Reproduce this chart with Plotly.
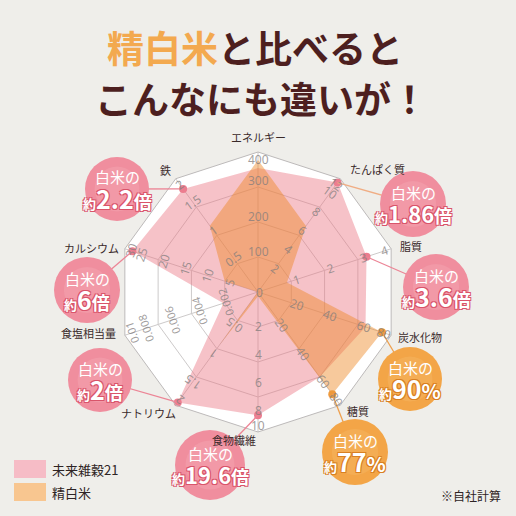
import math
import plotly.graph_objects as go

# ---------------- data ----------------
categories = ['エネルギー', 'たんぱく質', '脂質', '炭水化物', '糖質',
              '食物繊維', 'ナトリウム', '食塩相当量', 'カルシウム', '鉄']
axis_max = [400, 12, 4, 80, 80, 10, 2, 0.01, 30, 2]

mirai21 = [354, 11.6, 3.26, 64.6, 60, 8.8, 1.95, 0.0026, 28.3, 1.82]      # 未来雑穀21
seihakumai = [377, 7.0, 0.87, 74.5, 72.2, 0.3, 0.94, 0.0, 7.5, 1.17]      # 精白米

ticks_energy = ['100', '200', '300', '400']
ticks_protein = ['2', '4', '6', '8', '10', '12']
ticks_fat = ['1', '2', '3', '4']
ticks_carb = ['20', '40', '60', '80']
ticks_sugar = ['20', '40', '60', '80']
ticks_fiber = ['2', '4', '6', '8', '10']
ticks_sodium = ['0.5', '1', '1.5', '2']
ticks_salt = ['0.002', '0.004', '0.006', '0.008', '0.01']
ticks_calcium = ['5', '10', '15', '20', '25', '30']
ticks_iron = ['0.5', '1', '1.5', '2']
axis_ticks = [ticks_energy, ticks_protein, ticks_fat, ticks_carb, ticks_sugar,
              ticks_fiber, ticks_sodium, ticks_salt, ticks_calcium, ticks_iron]

pink_dot_axes = ['たんぱく質', '脂質', '食物繊維', 'ナトリウム', 'カルシウム', '鉄']
orange_dot_axes = ['炭水化物', '糖質']

callout_axes = ['鉄', 'たんぱく質', '脂質', 'カルシウム', 'ナトリウム', '食物繊維', '炭水化物', '糖質']
callout_series = ['pink', 'pink', 'pink', 'pink', 'pink', 'pink', 'orange', 'orange']
callout_num = ['2.2', '1.86', '3.6', '6', '2', '19.6', '90', '77']
callout_unit = ['倍', '倍', '倍', '倍', '倍', '倍', '%', '%']

# ---------------- layout constants ----------------
W = H = 516
CX, CY, R = 258, 292, 140

def px(x, y):
    return x / W, 1 - y / H

norm_pink = [v / m for v, m in zip(mirai21, axis_max)]
norm_orange = [v / m for v, m in zip(seihakumai, axis_max)]

def vertex_px(i, rn):
    a = math.radians(36 * i)
    return CX + R * rn * math.sin(a), CY - R * rn * math.cos(a)

fig = go.Figure()
fig.add_trace(go.Scatterpolar(
    r=norm_pink + [norm_pink[0]], theta=categories + [categories[0]],
    fill='toself', fillcolor='rgba(234,116,130,0.44)', line=dict(width=0),
    mode='lines', hoverinfo='skip'))
fig.add_trace(go.Scatterpolar(
    r=norm_orange + [norm_orange[0]], theta=categories + [categories[0]],
    fill='toself', fillcolor='rgba(237,135,35,0.45)', line=dict(width=0),
    mode='lines', hoverinfo='skip'))

pi = [categories.index(c) for c in pink_dot_axes]
oi = [categories.index(c) for c in orange_dot_axes]
fig.add_trace(go.Scatterpolar(
    r=[norm_pink[i] for i in pi], theta=[categories[i] for i in pi],
    mode='markers', marker=dict(size=8, color='#ec7d8f'), hoverinfo='skip'))
fig.add_trace(go.Scatterpolar(
    r=[norm_orange[i] for i in oi], theta=[categories[i] for i in oi],
    mode='markers', marker=dict(size=8, color='#ee9a3c'), hoverinfo='skip'))

dx0, dy0 = px(CX - R, CY + R)
dx1, dy1 = px(CX + R, CY - R)

annotations = []
shapes = []

def ann(x0, y0, text, font, xanchor='center', textangle=0):
    x, y = px(x0, y0)
    annotations.append(dict(x=x, y=y, xref='paper', yref='paper', text=text,
                            showarrow=False, xanchor=xanchor, yanchor='middle',
                            textangle=textangle, font=font))

# tick labels
tick_font = dict(size=12, color='rgba(130,125,125,0.75)', family='Noto Sans')
small_tick_font = dict(size=11, color='rgba(130,125,125,0.75)', family='Noto Sans')
label_angles = [0, 36, -18, 18, 54, 0, -144, -108, -72, -36]
for i, tl in enumerate(axis_ticks):
    for t in tl:
        v = float(t)
        rp = v / axis_max[i] * R
        rp = R - 7 if abs(v - axis_max[i]) < 1e-12 else rp + 6
        a = math.radians(36 * i)
        ann(CX + rp * math.sin(a), CY - rp * math.cos(a), t,
            small_tick_font if len(t) > 3 else tick_font, textangle=label_angles[i])
ann(CX + 1, CY, '0', tick_font)

# category names
cat_font = dict(size=11, color='#3a2a2a', family='Noto Sans CJK JP')
cat_pos = [(258, 137), (377, 169), (411, 246), (420, 337), (358, 411),
           (234, 440), (148, 413), (88, 333), (91, 248), (165, 170)]

# callout bubbles
bubble_pos = [(117, 189, 32), (413, 204, 33), (436, 287, 33), (87, 290, 33),
              (100, 380, 32), (210, 465, 35), (410, 379, 32), (355, 452, 33)]
for c, s, num, unit, (bx, by, br) in zip(callout_axes, callout_series, callout_num,
                                        callout_unit, bubble_pos):
    i = categories.index(c)
    rn = norm_pink[i] if s == 'pink' else norm_orange[i]
    vx, vy = vertex_px(i, rn)
    lcol = '#ec8596' if s == 'pink' else '#eea04e'
    if c == 'たんぱく質':
        lcol = '#f0ad84'
    a0, b0 = px(vx, vy)
    a1, b1 = px(bx, by)
    shapes.append(dict(type='line', xref='paper', yref='paper', x0=a0, y0=b0, x1=a1, y1=b1,
                       line=dict(color=lcol, width=1.3), layer='above'))
    fill = '#f08e9e' if s == 'pink' else '#f3a547'
    inner = '#f4a3b0' if s == 'pink' else '#f6b662'
    cx0, cy0 = px(bx - br, by + br)
    cx1, cy1 = px(bx + br, by - br)
    shapes.append(dict(type='circle', xref='paper', yref='paper', x0=cx0, y0=cy0, x1=cx1, y1=cy1,
                       fillcolor=fill, line=dict(width=0), layer='above'))
    ir = br * 0.7
    cx0, cy0 = px(bx - ir, by + ir)
    cx1, cy1 = px(bx + ir, by - ir)
    shapes.append(dict(type='circle', xref='paper', yref='paper', x0=cx0, y0=cy0, x1=cx1, y1=cy1,
                       fillcolor=inner, opacity=0.5, line=dict(width=0), layer='above'))
    oc = '#d9546a' if s == 'pink' else '#d98022'
    sh = f'1px 1px 0 {oc}, -1px -1px 0 {oc}, 1px -1px 0 {oc}, -1px 1px 0 {oc}'
    ann(bx, by - 12, '白米の', dict(size=15, color='white', family='Noto Sans CJK JP'))
    big = 22 if len(num) > 3 else 25
    txt = (f'<span style="font-size:13px">約</span>{num}'
           f'<span style="font-size:{18 if unit == "倍" else 20}px">{unit}</span>')
    ann(bx, by + 9, txt, dict(size=big, color='white', family='Noto Sans CJK JP',
                              weight=700, shadow=sh))

for c, (x0, y0) in zip(categories, cat_pos):
    ann(x0, y0, c, cat_font)

# title
title_font = dict(size=37, color='#4d1f1f', family='Noto Sans CJK JP', weight=700)
ann(255, 47, '<span style="color:#f3a94f">精白米</span>と比べると', title_font)
ann(261, 98, 'こんなにも違いが！', title_font)

# legend
leg_font = dict(size=13, color='#2e2424', family='Noto Sans CJK JP')
for (y0, col, name) in [(469, '#f6bcc6', '未来雑穀21'), (492, '#f8c690', '精白米')]:
    a0, b0 = px(14, y0 - 9)
    a1, b1 = px(46, y0 + 9)
    shapes.append(dict(type='rect', xref='paper', yref='paper', x0=a0, y0=b0, x1=a1, y1=b1,
                       fillcolor=col, line=dict(width=0)))
    ann(50, y0, name, leg_font, xanchor='left')
ann(503, 495, '※自社計算', dict(size=12, color='#2e2424', family='Noto Sans CJK JP'),
    xanchor='right')

fig.update_layout(
    width=W, height=H, margin=dict(l=0, r=0, t=0, b=0),
    paper_bgcolor='#efeeea', showlegend=False,
    polar=dict(
        domain=dict(x=[dx0, dx1], y=[dy0, dy1]),
        bgcolor='white', gridshape='linear',
        angularaxis=dict(type='category', categoryarray=categories, rotation=90,
                         direction='clockwise', showticklabels=False, ticks='',
                         gridcolor='#cdcaca', linecolor='#bdbaba', showline=True, linewidth=1),
        radialaxis=dict(range=[0, 1], tickvals=[0.25, 0.5, 0.75, 1], showticklabels=False,
                        ticks='', showline=False, gridcolor='#cdcaca'),
    ),
    annotations=annotations, shapes=shapes,
)
fig.write_html('out.html', config={'displayModeBar': False},
               post_script="document.body.style.margin='0px';")
